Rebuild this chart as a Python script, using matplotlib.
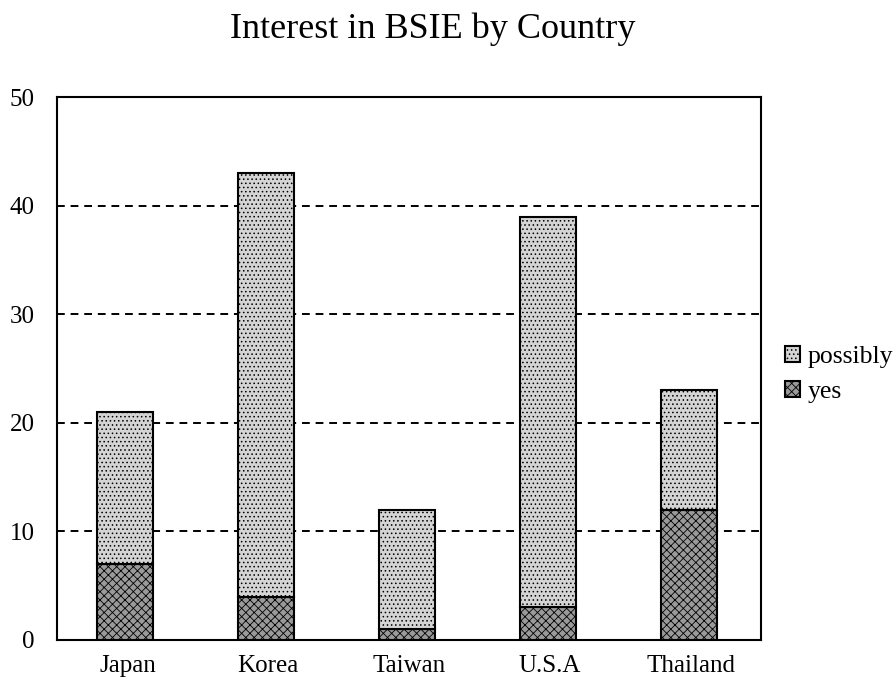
import matplotlib
matplotlib.use("Agg")
import matplotlib.pyplot as plt
import numpy as np

countries = ["Japan", "Korea", "Taiwan", "U.S.A", "Thailand"]
yes_vals = [7, 4, 1, 3, 12]
possibly_vals = [14, 39, 11, 36, 11]
yticks = [0, 10, 20, 30, 40, 50]

plt.rcParams['font.family'] = ['Liberation Serif', 'DejaVu Serif']
plt.rcParams['hatch.linewidth'] = 0.6

fig = plt.figure(figsize=(8.96, 6.88), dpi=100)
ax = fig.add_axes([0.0636, 0.0698, 0.786, 0.789])

x = np.arange(len(countries))
w = 0.40
b1 = ax.bar(x - 0.015, yes_vals, width=w, color='#9a9a9a', edgecolor='black', linewidth=1.5,
            hatch='xxxx', label='yes', zorder=3)
b2 = ax.bar(x - 0.015, possibly_vals, width=w, bottom=yes_vals, color='#d4d4d4', edgecolor='black',
            linewidth=1.5, hatch='....', label='possibly', zorder=3)

ax.set_xlim(-0.5, 4.5)
ax.set_ylim(0, 50)
ax.set_yticks(yticks)
ax.set_xticks(x)
ax.set_xticklabels(countries, fontsize=18)
ax.tick_params(axis='y', length=0, labelsize=18, pad=16)
ax.tick_params(axis='x', length=0, pad=11)
for yv in [10, 20, 30, 40]:
    ax.axhline(yv, color='black', linestyle=(0, (4, 3)), linewidth=1.4, zorder=1)
for s in ax.spines.values():
    s.set_linewidth(1.5)

fig.text(0.483, 0.958, "Interest in BSIE by Country", ha='center', va='center', fontsize=26)

fig.legend([b2, b1], ['possibly', 'yes'], loc='center left', bbox_to_anchor=(0.876, 0.456),
           frameon=False, fontsize=18.5, handlelength=0.6, handleheight=0.6, handletextpad=0.3,
           labelspacing=0.5, borderaxespad=0, borderpad=0)

fig.savefig("out.png", dpi=100)
